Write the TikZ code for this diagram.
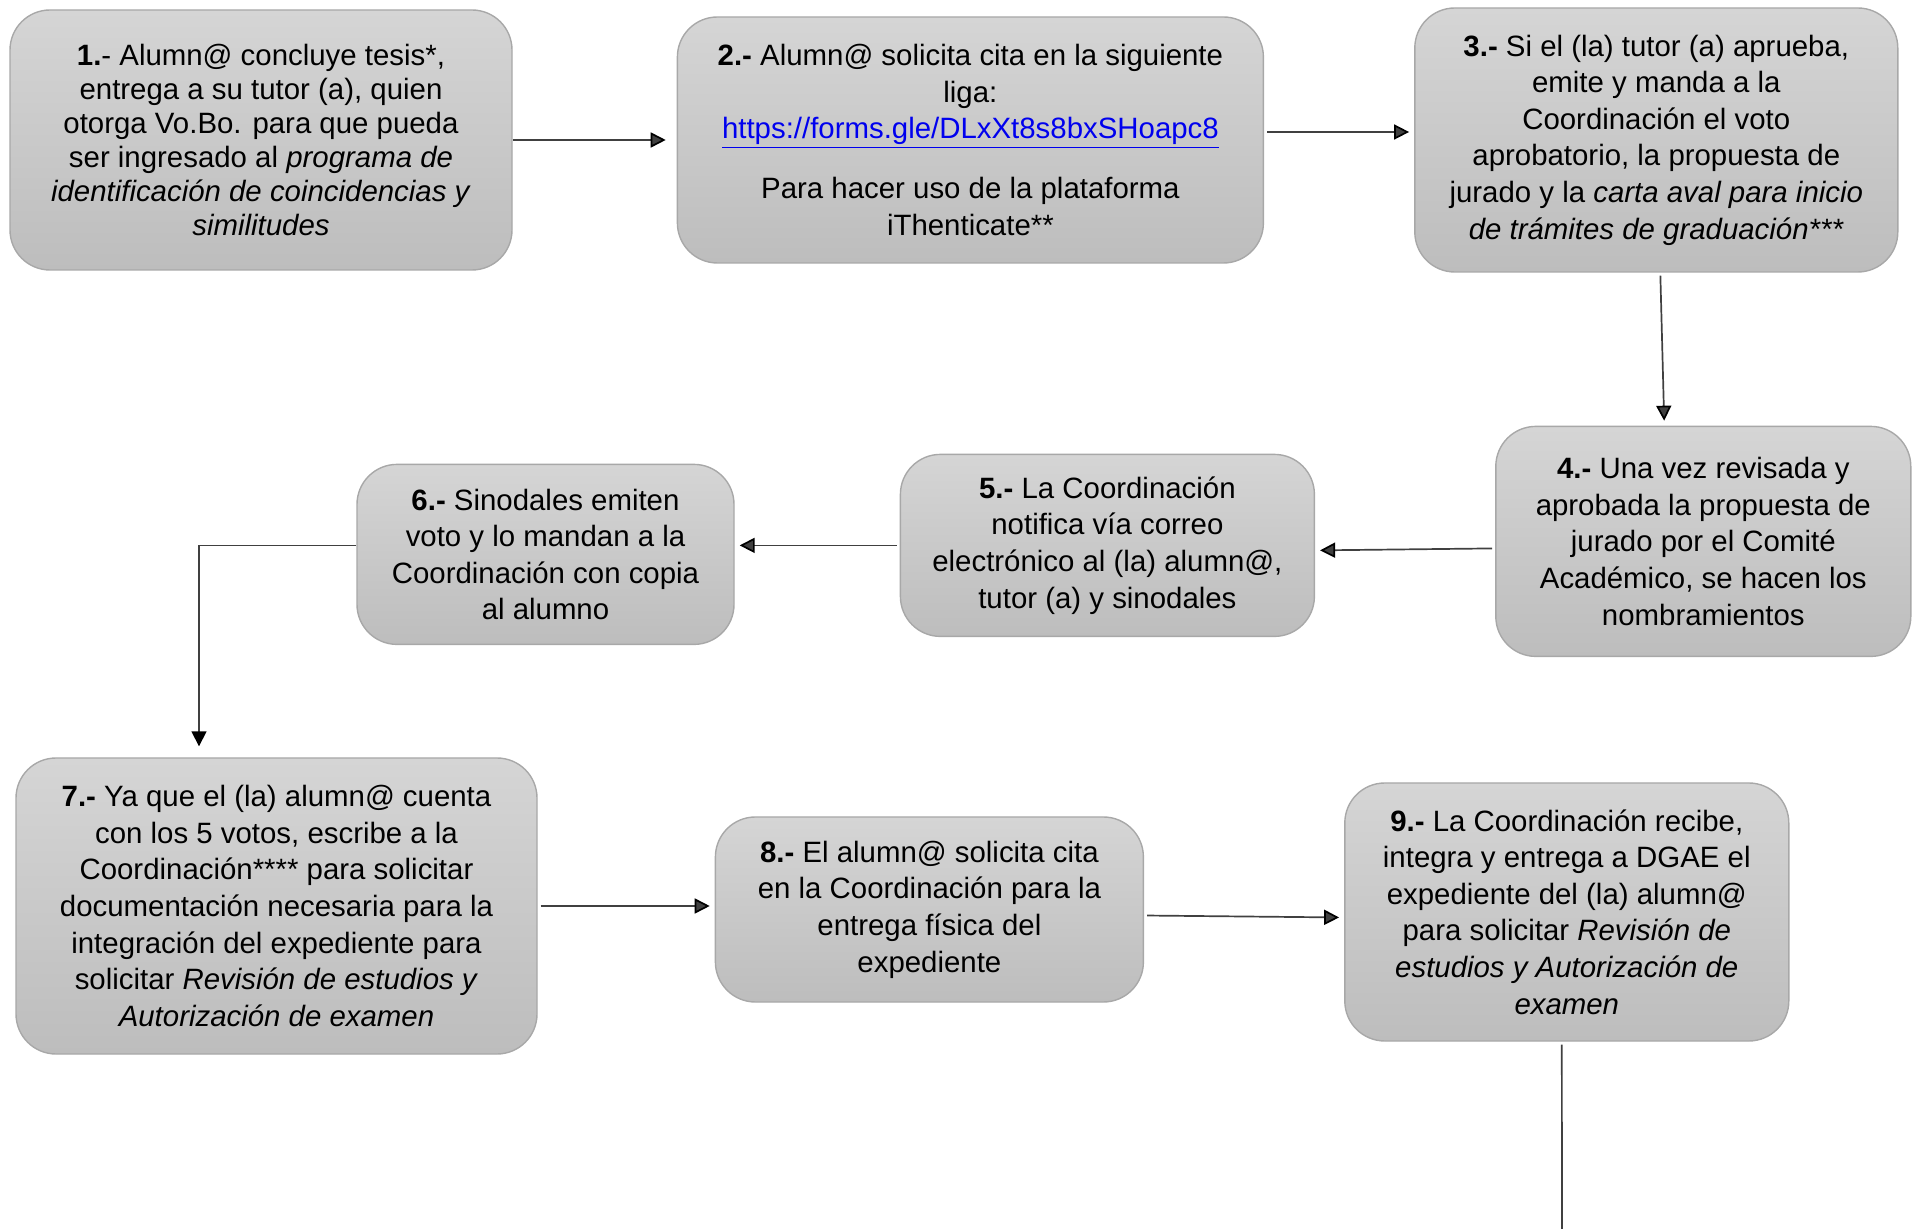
\documentclass[tikz,border=0pt]{standalone}
\usepackage{fontspec}
\setmainfont{Liberation Sans}
\usetikzlibrary{arrows.meta,positioning}

\definecolor{cajaarriba}{HTML}{D5D5D5}
\definecolor{cajaabajo}{HTML}{BDBDBD}
\definecolor{borde}{HTML}{A8A8A8}
\definecolor{liga}{HTML}{0000EE}

\tikzset{
  paso/.style={rectangle, rounded corners=20pt, draw=borde, line width=0.7pt,
    top color=cajaarriba, bottom color=cajaabajo, align=center, inner sep=2pt,
    font=\fontsize{14.7}{18.3}\selectfont},
  flecha/.style={-{Triangle[length=7.5pt,width=7.5pt,color=black]}, color=black!75,
    line width=0.85pt, shorten <=1.5pt, shorten >=2.5pt},
  linea/.style={draw=black!75, line width=0.85pt}
}

\begin{document}
\begin{tikzpicture}
  \useasboundingbox (0,0) rectangle (956.5pt,-614.5pt);
  % primera fila
  \node[paso, minimum width=251pt, minimum height=130pt, font=\fontsize{14.7}{17}\selectfont] (A) at (130.5pt,-70pt)
    {\textbf{1.}- Alumn@ concluye tesis*,\\ entrega a su tutor (a), quien\\ otorga Vo.Bo. para que pueda\\
     ser ingresado al \textit{programa de}\\ \textit{identificación de coincidencias y}\\ \textit{similitudes}};
  \node[paso, minimum width=293pt, minimum height=123pt, right=82pt of A] (B)
    {\textbf{2.-} Alumn@ solicita cita en la siguiente\\ liga:\\
     \textcolor{liga}{\underline{https://forms.gle/DLxXt8s8bxSHoapc8}}\\[11.7pt]
     Para hacer uso de la plataforma\\ iThenticate**};
  \node[paso, minimum width=241.5pt, minimum height=132pt, right=75pt of B] (C)
    {\textbf{3.-} Si el (la) tutor (a) aprueba,\\ emite y manda a la\\ Coordinación el voto\\
     aprobatorio, la propuesta de\\ jurado y la \textit{carta aval para inicio}\\ \textit{de trámites de graduación***}};

  % segunda fila
  \node[paso, minimum width=207.5pt, minimum height=115pt, below=76.5pt of C, xshift=23.5pt] (D)
    {\textbf{4.-} Una vez revisada y\\ aprobada la propuesta de\\ jurado por el Comité\\
     Académico, se hacen los\\ nombramientos};
  \node[paso, minimum width=207pt, minimum height=91pt, left=90pt of D, yshift=-2pt] (E)
    {\textbf{5.-} La Coordinación\\ notifica vía correo\\ electrónico al (la) alumn@,\\ tutor (a) y sinodales};
  \node[paso, minimum width=188.5pt, minimum height=90pt, left=82.5pt of E, yshift=-4.5pt] (F)
    {\textbf{6.-} Sinodales emiten\\ voto y lo mandan a la\\ Coordinación con copia\\ al alumno};

  % tercera fila
  \node[paso, minimum width=260.5pt, minimum height=148pt] (G) at (138.25pt,-453pt)
    {\textbf{7.-} Ya que el (la) alumn@ cuenta\\ con los 5 votos, escribe a la\\ Coordinación**** para solicitar\\
     documentación necesaria para la\\ integración del expediente para\\
     solicitar \textit{Revisión de estudios y}\\ \textit{Autorización de examen}};
  \node[paso, minimum width=214pt, minimum height=92.5pt, right=88.5pt of G, yshift=-1.75pt] (H)
    {\textbf{8.-} El alumn@ solicita cita\\ en la Coordinación para la\\ entrega física del\\ expediente};
  \node[paso, minimum width=222pt, minimum height=129pt, right=100pt of H, yshift=-1.25pt] (I)
    {\textbf{9.-} La Coordinación recibe,\\ integra y entrega a DGAE el\\ expediente del (la) alumn@\\
     para solicitar \textit{Revisión de}\\ \textit{estudios y Autorización de}\\ \textit{examen}};
  \coordinate (fin) at (781pt,-614.5pt);

  \path[flecha]
  (A.east) edge[shorten <=0pt, shorten >=5.5pt] (A.east -| B.west)
  ([yshift=4pt]B.east) edge ([yshift=4pt]B.east -| C.west)
  ([xshift=2pt]C.south) edge ([xshift=4pt]C.south |- D.north)
  ([yshift=-3.5pt]D.west) edge ([yshift=-2.5pt]E.east)
  (E.west) edge (E.west -| F.east)
  (G.east) edge (G.east -| H.west)
  ([yshift=-3pt]H.east) edge ([yshift=-2.75pt]I.west);
  \draw[flecha, shorten <=0pt, shorten >=5.5pt] ([yshift=4.5pt]F.west) -| ([xshift=-38.75pt]G.north);
  \draw[linea, shorten <=1.5pt] ([xshift=-2.5pt]I.south) -- (fin);
\end{tikzpicture}
\end{document}
